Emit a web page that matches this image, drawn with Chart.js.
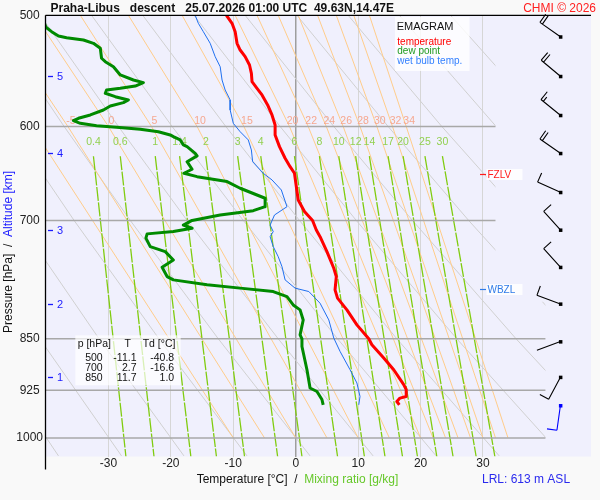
<!DOCTYPE html>
<html>
<head>
<meta charset="utf-8">
<title>Emagram Praha-Libus</title>
<script src="https://cdn.jsdelivr.net/npm/chart.js@4.4.1/dist/chart.umd.min.js"></script>
<style>
  html, body { margin: 0; padding: 0; background: #f9f9f9; }
  #wrap { width: 600px; height: 500px; }
</style>
</head>
<body>
<div id="wrap"><canvas id="emagram" width="600" height="500"></canvas></div>
<script>
const FONT = '"Liberation Sans", Arial, sans-serif';

// --- sounding profiles (pressure hPa / temperature degC) ---
const tempP = [500, 506.6, 513.6, 523.5, 529.3, 535.1, 542.5, 549.9, 557.5, 563.6, 569.8, 579.2, 588.8, 598.5, 608.4, 620.2, 632.1, 640.9, 647.9, 662.3, 676.9, 689.9, 700, 711, 718.9, 736.8, 757.1, 767.5, 784.5, 795.2, 810.6, 830.8, 850, 858.4, 877.2, 894.2, 916.4, 924, 934.3, 936.8, 942.1, 947.2];
const tempT = [-11.1, -10.2, -9.7, -9.4, -8.9, -8.1, -7.4, -7.1, -7.0, -6.2, -5.4, -4.5, -3.8, -3.3, -3.3, -2.6, -1.7, -0.9, -0.2, 0.1, 0.4, 1.4, 2.7, 3.3, 3.9, 5.0, 6.1, 6.5, 6.3, 6.7, 8.2, 9.8, 11.7, 12.2, 14.1, 15.7, 17.3, 17.7, 17.7, 16.7, 16.2, 16.6];

const dewP = [500, 509.9, 513.6, 517.3, 518.7, 520.7, 523.5, 527.8, 536.5, 539.5, 544, 551.4, 556, 558.4, 561.5, 563.6, 565.2, 568.2, 571.4, 574.5, 577, 580.2, 584, 588.8, 592, 594.3, 596.9, 599.2, 600.8, 602.8, 605.2, 608.4, 610.1, 613.4, 618.5, 620.2, 627, 629.7, 635.7, 643.6, 647.9, 651.5, 656.8, 664, 675, 684.4, 688.9, 693.8, 700, 705.4, 709, 712.9, 715.6, 720.6, 730.7, 736.8, 746.9, 755.8, 767.5, 771.7, 778, 782.2, 786.6, 793.2, 804.1, 810.6, 824.1, 844.5, 850, 860.8, 894.2, 921.4, 926.7, 939, 947.2];
const dewT = [-40.8, -40.0, -39.1, -38.0, -36.7, -34.0, -32.4, -31.3, -31.1, -30.5, -29.2, -28.1, -26.0, -24.4, -25.7, -28.1, -30.3, -30.5, -28.9, -26.8, -27.6, -29.7, -30.8, -32.9, -34.8, -35.6, -34.5, -31.9, -28.7, -24.9, -22.0, -20.1, -19.6, -18.5, -18.0, -17.4, -16.1, -15.8, -17.4, -16.6, -17.9, -15.8, -11.0, -8.9, -4.9, -4.9, -6.8, -12.1, -16.6, -18.0, -16.6, -19.6, -23.8, -24.0, -23.3, -20.9, -19.6, -21.4, -20.6, -19.6, -14.2, -8.9, -3.6, -1.4, -0.4, 0.7, 1.2, 0.7, 1.0, 1.0, 1.8, 2.3, 3.4, 4.2, 4.4];

const wetP = [500, 506.6, 513.6, 523.5, 535.1, 544, 556, 565.2, 574.5, 584, 596.9, 605.2, 613.4, 623.6, 635.7, 647.9, 655, 665.9, 684.4, 693.8, 705.4, 712.9, 718.9, 730.7, 742.9, 755.1, 771.7, 782.2, 786.6, 801.8, 824.1, 849, 867.7, 894.2, 913.9, 934.3, 947.2];
const wetT = [-16.1, -15.6, -14.8, -13.7, -12.9, -12.1, -11.8, -11.3, -10.5, -10.5, -10.0, -8.9, -7.6, -7.1, -6.9, -5.2, -3.8, -2.3, -1.4, -3.4, -4.1, -3.6, -4.1, -3.6, -2.8, -2.2, -1.7, -0.1, 2.1, 3.9, 5.3, 6.1, 7.1, 8.7, 9.8, 10.3, 10.1];

// --- axes ---
const tempTicks = [-30, -20, -10, 0, 10, 20, 30];
const pressureTicks = [500, 600, 700, 850, 925, 1000];
const isobarP = [600, 700, 850, 925, 1000];
const isobarEndT = [32, 32, 40, 40, 40];
const guideEdgeT = [32, 40];   // right end of the diagram lines above / below guideEdgeP
const guideEdgeP = 800;

// dry adiabats (theta in degC), temperature where they cross 500/600/700/850/1030 hPa
const dryLevels = [500, 600, 700, 850, 1030];
const dryTheta = [-40, -30, -20, -10, 0, 10, 20, 30, 40, 50, 60, 70, 80, 90];
const dryT500 = [-81.9, -73.7, -65.5, -57.3, -49.1, -40.9, -32.7, -24.5, -16.3, -8.1, 0.2, 8.4, 16.6, 24.8];
const dryT600 = [-71.7, -63.0, -54.4, -45.7, -37.1, -28.4, -19.8, -11.2, -2.5, 6.1, 14.8, 23.4, 32.1, 40.7];
const dryT700 = [-62.6, -53.6, -44.5, -35.5, -26.5, -17.4, -8.4, 0.6, 9.7, 18.7, 27.7, 36.8, 45.8, 54.8];
const dryT850 = [-50.6, -41.0, -31.5, -21.9, -12.4, -2.8, 6.7, 16.2, 25.8, 35.3, 44.9, 54.4, 64.0, 73.5];
const dryT1030 = [-38.0, -27.9, -17.9, -7.8, 2.3, 12.4, 22.5, 32.6, 42.7, 52.7, 62.8, 72.9, 83.0, 93.1];

// saturated adiabats, labelled by wet bulb potential temperature
const moistTheta = [-10, -5, 0, 5, 10, 15, 20, 22, 24, 26, 28, 30, 32, 34];
const moistT500 = [-53.9, -48.4, -41.8, -34.5, -26.8, -18.2, -9.7, -6.2, -2.8, 0.4, 3.5, 6.5, 9.3, 11.8];
const moistT600 = [-42.3, -36.5, -30.0, -23.1, -15.8, -8.3, -1.0, 2.0, 4.9, 7.6, 10.3, 13.0, 15.5, 17.7];

// mixing ratio lines [g/kg]
const mixRatio = [0.4, 0.6, 1, 1.4, 2, 3, 4, 6, 8, 10, 12, 14, 17, 20, 25, 30];
const mixTopP = 630, mixBottomP = 1031;
const mixTTop = [-32.4, -28.1, -22.5, -18.6, -14.4, -9.3, -5.6, -0.2, 3.8, 6.9, 9.6, 11.8, 14.8, 17.2, 20.7, 23.5];
const mixTBottom = [-27.2, -22.7, -16.8, -12.7, -8.2, -2.9, 1.0, 6.7, 11.0, 14.3, 17.1, 19.5, 22.6, 25.2, 28.9, 31.9];

// wind (every 500 m + surface)
const windP = [517.9, 552.6, 589.1, 627, 668.4, 711, 755.8, 802.7, 853.9, 905.2, 948.3];
const windDir = [305, 310, 309, 305, 294, 318, 318, 290, 250, 208, 188];
const windSpd = [20, 20, 15, 20, 10, 10, 10, 10, 2, 10, 10];
const windColumnT = 42.4;

// altitude marks [km] and levels
const altKm = [1, 2, 3, 4, 5];
const altP = [905.2, 802.7, 711, 627, 552.6];
const fzlvP = 648.6;
const wbzlP = 783.3;

// table
const tableP = ['500', '700', '850'];
const tableT = ['-11.1', '2.7', '11.7'];
const tableTd = ['-40.8', '-16.6', '1.0'];

function pts(ps, ts) {
    return ps.map((p, i) => ({ x: ts[i], y: p }));
}

function lineSet(data, color, width, order, extra) {
    return Object.assign({
        data: data,
        borderColor: color,
        borderWidth: width,
        pointRadius: 0,
        fill: false,
        tension: 0,
        order: order
    }, extra || {});
}

const datasets = [];
datasets.push(lineSet(pts(tempP, tempT), '#ff0000', 3, 0, { borderJoinStyle: 'round' }));
datasets.push(lineSet(pts(dewP, dewT), '#008a00', 3, 1, { borderJoinStyle: 'round' }));
datasets.push(lineSet(pts(wetP, wetT), '#1f6fef', 1, 2, { labelsFirst: true }));

isobarP.forEach((p, i) => {
    datasets.push(lineSet([{ x: -40, y: p }, { x: isobarEndT[i], y: p }], '#a8a8a8', 1.5, 3));
});
mixRatio.forEach((w, i) => {
    datasets.push(lineSet([{ x: mixTTop[i], y: mixTopP }, { x: mixTBottom[i], y: mixBottomP }],
        '#80cc10', 1.3, 4, { borderDash: [14, 1.5] }));
});
moistTheta.forEach((th, i) => {
    datasets.push(lineSet([{ x: moistT500[i], y: 500 }, { x: moistT600[i], y: 600 }, { x: th, y: 1000 }],
        '#ffcc8a', 1, 5));
});
dryTheta.forEach((th, i) => {
    const ts = [dryT500[i], dryT600[i], dryT700[i], dryT850[i], dryT1030[i]];
    datasets.push(lineSet(pts(dryLevels, ts), '#d0d0d0', 1, 6, { guideClip: true }));
});

function drawGuideLabels(chart) {
    const { ctx, scales: { x, y }, chartArea: a } = chart;
    ctx.save();
    ctx.font = '10.5px ' + FONT;
    ctx.textAlign = 'center';
    ctx.textBaseline = 'middle';
    ctx.fillStyle = '#f6a890';
    moistTheta.forEach((th, i) => {
        const px = x.getPixelForValue(moistT600[i]) + 3;
        if (px < a.left + 8) return;
        ctx.fillText(String(th), px, y.getPixelForValue(600) - 5.6);
    });
    ctx.fillStyle = '#92d050';
    mixRatio.forEach((w, i) => {
        ctx.fillText(String(w), x.getPixelForValue(mixTTop[i]), y.getPixelForValue(mixTopP) - 14.5);
    });
    // altitude marks
    ctx.strokeStyle = '#1a1aff';
    ctx.fillStyle = '#1a1aff';
    ctx.lineWidth = 1.3;
    ctx.font = '11px ' + FONT;
    ctx.textAlign = 'left';
    altKm.forEach((km, i) => {
        const py = Math.round(y.getPixelForValue(altP[i])) + 0.5;
        ctx.beginPath();
        ctx.moveTo(a.left + 2, py);
        ctx.lineTo(a.left + 7, py);
        ctx.stroke();
        ctx.fillText(String(km), a.left + 11, py + 0.5);
    });
    ctx.restore();
}

function drawBarb(ctx, bx, by, dir, spd, color) {
    const r = dir * Math.PI / 180;
    const ux = Math.sin(r), uy = -Math.cos(r);
    const tx = bx + ux * 25, ty = by + uy * 25;
    const fx = -uy, fy = ux;
    ctx.strokeStyle = color;
    ctx.fillStyle = color;
    ctx.lineWidth = 1.1;
    ctx.beginPath();
    ctx.moveTo(bx, by);
    ctx.lineTo(tx, ty);
    const n = Math.round(spd / 5);
    let pos = 0;
    for (let k = 0; k < Math.floor(n / 2); k++) {
        const sx = tx - ux * pos, sy = ty - uy * pos;
        ctx.moveTo(sx, sy);
        ctx.lineTo(sx + fx * 10, sy + fy * 10);
        pos += 3;
    }
    if (n % 2) {
        const sx = tx - ux * pos, sy = ty - uy * pos;
        ctx.moveTo(sx, sy);
        ctx.lineTo(sx + fx * 5.5, sy + fy * 5.5);
    }
    ctx.stroke();
    ctx.fillRect(bx - 1.5, by - 1.5, 3.5, 3.5);
}

function levelTag(ctx, x, y, p, text, color) {
    const x30 = x.getPixelForValue(30);
    const py = Math.round(y.getPixelForValue(p)) + 0.5;
    ctx.fillStyle = 'rgba(255,255,255,0.85)';
    ctx.fillRect(x30 + 3.5, py - 5.5, 36, 11);
    ctx.strokeStyle = color;
    ctx.lineWidth = 1.2;
    ctx.beginPath();
    ctx.moveTo(x30 - 3, py);
    ctx.lineTo(x30 + 3, py);
    ctx.stroke();
    ctx.fillStyle = color;
    ctx.font = '10px ' + FONT;
    ctx.textAlign = 'left';
    ctx.textBaseline = 'middle';
    ctx.fillText(text, x30 + 4.5, py + 0.5);
}

const decor = {
    id: 'decor',
    beforeDraw(chart) {
        const { ctx, chartArea: a } = chart;
        ctx.save();
        ctx.fillStyle = '#f9f9f9';
        ctx.fillRect(0, 0, chart.width, chart.height);
        ctx.fillStyle = '#f0f0fd';
        ctx.fillRect(a.left, a.top, a.right - a.left, a.bottom - a.top);
        ctx.restore();
    },
    beforeDatasetDraw(chart, args) {
        const ds = chart.data.datasets[args.index];
        const { ctx, scales: { x, y } } = chart;
        if (ds.labelsFirst) drawGuideLabels(chart);
        if (ds.guideClip) {
            ctx.save();
            ctx.beginPath();
            ctx.moveTo(x.getPixelForValue(-40), y.top);
            ctx.lineTo(x.getPixelForValue(guideEdgeT[0]), y.top);
            ctx.lineTo(x.getPixelForValue(guideEdgeT[0]), y.getPixelForValue(guideEdgeP));
            ctx.lineTo(x.getPixelForValue(guideEdgeT[1]), y.getPixelForValue(guideEdgeP));
            ctx.lineTo(x.getPixelForValue(guideEdgeT[1]), y.bottom);
            ctx.lineTo(x.getPixelForValue(-40), y.bottom);
            ctx.closePath();
            ctx.clip();
        }
    },
    afterDatasetDraw(chart, args) {
        if (chart.data.datasets[args.index].guideClip) chart.ctx.restore();
    },
    afterDatasetsDraw(chart) {
        const { ctx, scales: { x, y } } = chart;
        ctx.save();
        // wind barbs
        const bx = x.getPixelForValue(windColumnT);
        windP.forEach((p, i) => {
            const color = i === windP.length - 1 ? '#0000ff' : '#000000';
            drawBarb(ctx, bx, y.getPixelForValue(p), windDir[i], windSpd[i], color);
        });
        levelTag(ctx, x, y, fzlvP, 'FZLV', '#ff1a1a');
        levelTag(ctx, x, y, wbzlP, 'WBZL', '#2f7be8');

        // legend box
        ctx.fillStyle = 'rgba(255,255,255,0.8)';
        ctx.fillRect(395, 17, 74.5, 54);
        ctx.textAlign = 'left';
        ctx.textBaseline = 'alphabetic';
        ctx.fillStyle = '#111';
        ctx.font = '11px ' + FONT;
        ctx.fillText('EMAGRAM', 396.7, 29.5);
        ctx.font = '10px ' + FONT;
        ctx.fillStyle = '#ff0000';
        ctx.fillText('temperature', 397.3, 44.7);
        ctx.fillStyle = '#1f9a1f';
        ctx.fillText('dew point', 397.3, 54.3);
        ctx.fillStyle = '#3380ff';
        ctx.fillText('wet bulb temp.', 397.3, 64);

        // table of standard levels
        ctx.fillStyle = 'rgba(255,255,255,0.7)';
        ctx.fillRect(75.3, 335.3, 105.4, 50);
        ctx.fillStyle = '#111';
        ctx.font = '10.5px ' + FONT;
        ctx.fillText('p [hPa]', 77.7, 346.5);
        ctx.fillText('Td [\u00B0C]', 142.7, 346.5);
        ctx.textAlign = 'center';
        ctx.fillText('T', 127.7, 346.5);
        ctx.textAlign = 'right';
        tableP.forEach((p, i) => {
            const by = 361 + i * 10;
            ctx.fillText(p, 102.7, by);
            ctx.fillText(tableT[i], 136.5, by);
            ctx.fillText(tableTd[i], 174.2, by);
        });
        ctx.restore();
    },
    afterDraw(chart) {
        const { ctx, chartArea: a } = chart;
        ctx.save();
        // frame
        ctx.strokeStyle = '#000';
        ctx.lineWidth = 1.3;
        ctx.beginPath();
        ctx.moveTo(a.left - 0.5, a.top);
        ctx.lineTo(a.left - 0.5, 469.5);
        ctx.moveTo(a.left - 0.5, a.top);
        ctx.lineTo(a.right, a.top);
        ctx.stroke();

        // title
        ctx.textBaseline = 'alphabetic';
        ctx.textAlign = 'left';
        ctx.font = 'bold 12px ' + FONT;
        ctx.fillStyle = '#111';
        ctx.fillText('Praha-Libus   descent   25.07.2026 01:00 UTC  49.63N,14.47E', 50.5, 12);
        ctx.font = '12px ' + FONT;
        ctx.fillStyle = '#ff2020';
        ctx.textAlign = 'right';
        ctx.fillText('CHMI \u00A9 2026', 596, 11.5);

        // x title
        ctx.textAlign = 'left';
        ctx.fillStyle = '#111';
        let tx = 196.7;
        const part1 = 'Temperature [\u00B0C]  /  ';
        ctx.fillText(part1, tx, 483.3);
        tx += ctx.measureText(part1).width;
        ctx.fillStyle = '#66c82a';
        ctx.fillText('Mixing ratio [g/kg]', tx, 483.3);

        ctx.fillStyle = '#2a2aee';
        ctx.fillText('LRL: 613 m ASL', 482, 483.3);

        // y title, rotated
        ctx.translate(11.7, 333);
        ctx.rotate(-Math.PI / 2);
        let ty = 0;
        const y1 = 'Pressure [hPa]', y2 = '  /  ';
        ctx.fillStyle = '#111';
        ctx.fillText(y1, ty, 0);
        ty += ctx.measureText(y1).width;
        ctx.fillText(y2, ty, 0);
        ty += ctx.measureText(y2).width;
        ctx.fillStyle = '#1a1aff';
        ctx.fillText('Altitude [km]', ty, 0);
        ctx.restore();
    }
};

new Chart(document.getElementById('emagram'), {
    type: 'line',
    data: { datasets: datasets },
    options: {
        responsive: false,
        animation: false,
        events: [],
        layout: { padding: { top: 15.3, right: 9, left: 0, bottom: 0 } },
        plugins: { legend: { display: false }, tooltip: { enabled: false } },
        elements: { point: { radius: 0 }, line: { tension: 0 } },
        scales: {
            x: {
                type: 'linear',
                min: -40,
                max: 47.3,
                afterBuildTicks: (s) => { s.ticks = tempTicks.map(v => ({ value: v })); },
                afterFit: (s) => { s.height = 43.5; },
                grid: {
                    drawTicks: false,
                    color: (c) => (c.tick && c.tick.value === 0 ? '#9e9e9e' : '#d6d6d6'),
                    lineWidth: (c) => (c.tick && c.tick.value === 0 ? 1.5 : 1)
                },
                border: { display: false },
                ticks: {
                    autoSkip: false,
                    maxRotation: 0,
                    padding: 0,
                    color: '#222',
                    font: { family: FONT, size: 12 },
                    callback: (v) => String(v)
                }
            },
            y: {
                type: 'logarithmic',
                reverse: true,
                min: 500,
                max: 1031,
                afterBuildTicks: (s) => { s.ticks = pressureTicks.map(v => ({ value: v })); },
                afterFit: (s) => { s.width = 46; },
                grid: { display: false, drawTicks: false },
                border: { display: false },
                ticks: {
                    autoSkip: false,
                    padding: 3,
                    crossAlign: 'center',
                    color: '#222',
                    font: { family: FONT, size: 12 },
                    callback: (v) => String(v)
                }
            }
        }
    },
    plugins: [decor]
});
</script>
</body>
</html>
